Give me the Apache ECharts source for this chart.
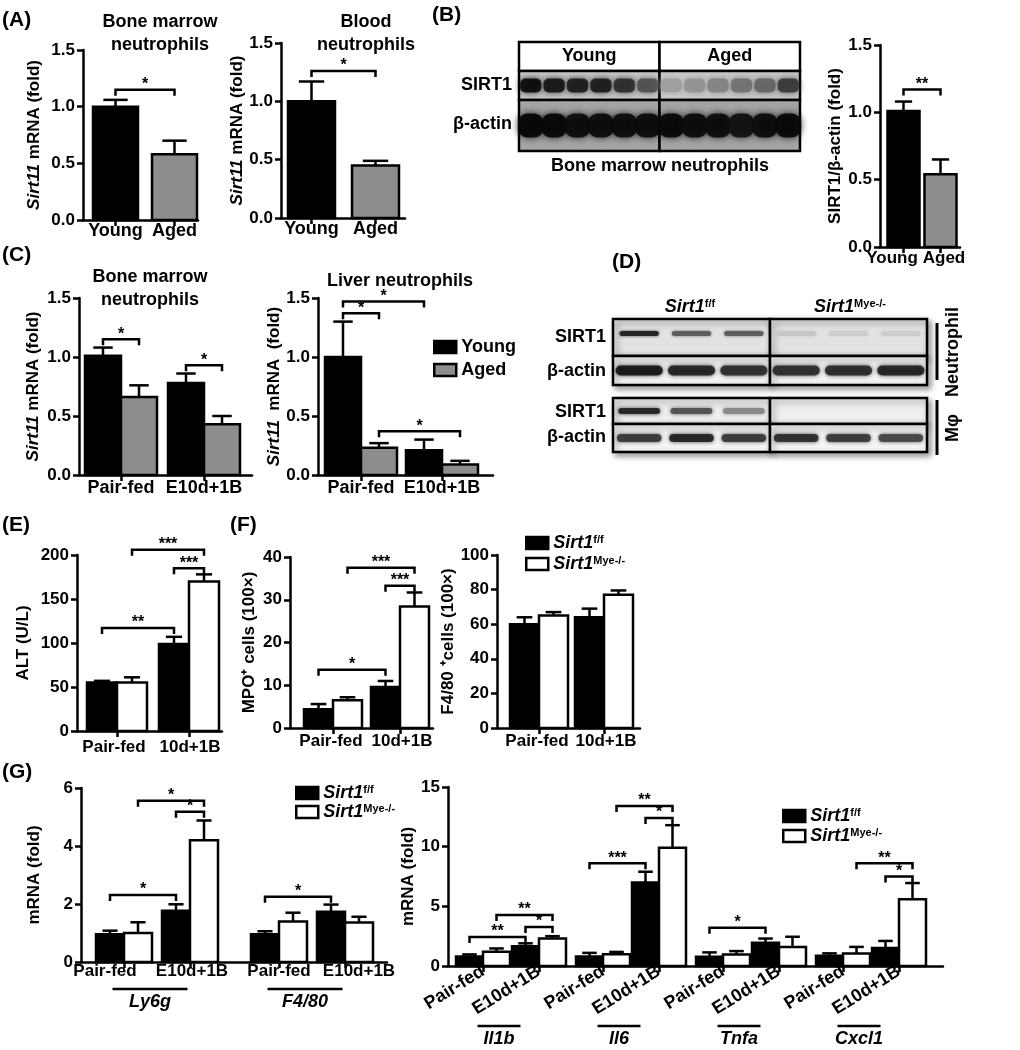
<!DOCTYPE html>
<html>
<head>
<meta charset="utf-8">
<title>SIRT1 in neutrophils</title>
<script src="https://cdn.jsdelivr.net/npm/echarts@6/dist/echarts.min.js"></script>
<style>
  html, body { margin: 0; padding: 0; background: #fff; }
  #chart { width: 1020px; height: 1050px; }
</style>
</head>
<body>
<div id="chart"></div>
<script>
const FONT = '"Liberation Sans", Arial, sans-serif';

// ---------- values ----------
// (A)
const ageGroups = ['Young', 'Aged'];
const aBoneMean = [1.0, 0.58];
const aBoneErr = [0.06, 0.12];
const aBloodMean = [1.0, 0.45];
const aBloodErr = [0.17, 0.04];
// (B)
const bRatioMean = [1.01, 0.54];
const bRatioErr = [0.07, 0.11];
const bSirt1Band = [0.95, 0.9, 0.88, 0.88, 0.8, 0.65, 0.3, 0.35, 0.42, 0.5, 0.55, 0.75];
const bActinBand = [0.98, 0.97, 0.95, 0.95, 0.95, 0.95, 0.97, 0.95, 0.95, 0.93, 0.95, 0.97];
// (C)
const cGroups = ['Pair-fed', 'E10d+1B'];
const cBoneYoung = [1.01, 0.78];
const cBoneYoungErr = [0.07, 0.08];
const cBoneAged = [0.66, 0.43];
const cBoneAgedErr = [0.1, 0.07];
const cLiverYoung = [1.0, 0.21];
const cLiverYoungErr = [0.3, 0.09];
const cLiverAged = [0.23, 0.09];
const cLiverAgedErr = [0.04, 0.03];
// (D)
const dNeutSirt1Band = [0.85, 0.6, 0.6, 0.12, 0.1, 0.1];
const dNeutActinBand = [0.9, 0.85, 0.8, 0.8, 0.82, 0.85];
const dMacSirt1Band = [0.85, 0.65, 0.4, 0, 0, 0];
const dMacActinBand = [0.75, 0.85, 0.75, 0.8, 0.75, 0.7];
// (E)
const eGroups = ['Pair-fed', '10d+1B'];
const eFloxed = [55, 99];
const eFloxedErr = [2, 8];
const eKo = [55, 170];
const eKoErr = [6, 8];
// (F)
const fMpoFloxed = [4.4, 9.6];
const fMpoFloxedErr = [1.2, 1.4];
const fMpoKo = [6.5, 28.4];
const fMpoKoErr = [0.7, 3.3];
const fF480Floxed = [60, 64];
const fF480FloxedErr = [4, 5];
const fF480Ko = [65, 77];
const fF480KoErr = [2, 2.5];
// (G)
const gConditions = ['Pair-fed', 'E10d+1B'];
const gLeftGenes = ['Ly6g', 'F4/80'];
const gLeftFloxed = [0.96, 1.77, 0.96, 1.73];
const gLeftFloxedErr = [0.12, 0.22, 0.1, 0.25];
const gLeftKo = [1.0, 4.2, 1.4, 1.36];
const gLeftKoErr = [0.37, 0.68, 0.3, 0.2];
const gRightGenes = ['Il1b', 'Il6', 'Tnfa', 'Cxcl1'];
const gRightFloxed = [0.8, 1.65, 0.8, 7.0, 0.78, 1.95, 0.86, 1.5];
const gRightFloxedErr = [0.17, 0.25, 0.3, 0.9, 0.36, 0.35, 0.2, 0.6];
const gRightKo = [1.2, 2.3, 0.98, 9.9, 0.97, 1.6, 1.05, 5.6];
const gRightKoErr = [0.27, 0.2, 0.2, 1.9, 0.28, 0.85, 0.55, 1.35];

// significance brackets: [from bar, to bar, height, stars]
const aBoneSig = [[0, 1, 1.15, '*']];
const aBloodSig = [[0, 1, 1.26, '*']];
const bSig = [[0, 1, 1.17, '**']];
const cBoneSig = [[0, 1, 1.15, '*'], [2, 3, 0.93, '*']];
const cLiverSig = [[0, 1, 1.37, '*'], [0, 2, 1.47, '*'], [1, 3, 0.37, '*']];
const eSig = [[0, 2, 117, '**'], [1, 3, 206, '***'], [2, 3, 185, '***']];
const fMpoSig = [[0, 2, 13.6, '*'], [1, 3, 37.5, '***'], [2, 3, 33.3, '***']];
const gLeftSig = [[0, 2, 2.31, '*'], [1, 3, 5.56, '*'], [2, 3, 5.18, '*'], [4, 6, 2.25, '*']];
const gRightSig = [[0, 2, 2.43, '**'], [1, 3, 4.27, '**'], [2, 3, 3.27, '*'],
  [4, 6, 8.6, '***'], [5, 7, 13.4, '**'], [6, 7, 12.4, '*'],
  [8, 10, 3.2, '*'], [13, 15, 8.6, '**'], [14, 15, 7.5, '*']];

// ---------- styles ----------
const BLACK = '#000', GRAY = '#8d8d8d', WHITE = '#fff';
const youngKind = { name: 'Young', color: BLACK };
const agedKind = { name: 'Aged', color: GRAY };
const floxKind = { name: 'Sirt1 f/f', color: BLACK };
const koKind = { name: 'Sirt1 Mye-/-', color: WHITE };
const LW = 2.5;
const boldText = { fontFamily: FONT, fontWeight: 'bold', fontSize: 17, color: '#000' };

const grids = [], xAxes = [], yAxes = [], series = [];

function nearest(arr, v) {
  let b = 0;
  arr.forEach((a, i) => { if (Math.abs(a - v) < Math.abs(arr[b] - v)) b = i; });
  return b;
}

function renderBar(barW, color) {
  return function (params, api) {
    const x = api.value(0), v = api.value(1), e = api.value(2);
    const bl = api.coord([x - barW / 2, 0]);
    const tr = api.coord([x + barW / 2, v]);
    const tip = api.coord([x, v + e]);
    const cap = (tr[0] - bl[0]) * 0.27;
    const line = { stroke: '#000', lineWidth: LW };
    return { type: 'group', children: [
      { type: 'rect', shape: { x: bl[0], y: tr[1], width: tr[0] - bl[0], height: bl[1] - tr[1] },
        style: { fill: color, stroke: '#000', lineWidth: LW } },
      { type: 'line', shape: { x1: tip[0], y1: tr[1], x2: tip[0], y2: tip[1] }, style: line },
      { type: 'line', shape: { x1: tip[0] - cap, y1: tip[1], x2: tip[0] + cap, y2: tip[1] }, style: line }
    ] };
  };
}

function renderBracket(sig, starSize) {
  return function (params, api) {
    const a = api.coord([api.value(0), api.value(2)]);
    const b = api.coord([api.value(1), api.value(2)]);
    return { type: 'group', children: [
      { type: 'polyline', shape: { points: [[a[0], a[1] + 6], a, b, [b[0], b[1] + 6]] },
        style: { stroke: '#000', lineWidth: LW, fill: null } },
      { type: 'text', style: { text: sig[params.dataIndex][3], x: (a[0] + b[0]) / 2, y: a[1] + 3,
        align: 'center', verticalAlign: 'bottom', textAlign: 'center', textVerticalAlign: 'bottom',
        font: 'bold ' + starSize + 'px ' + FONT, fill: '#000' } }
    ] };
  };
}

// bar panel on a pixel-scaled value x axis
function addPanel(p) {
  const gi = grids.length, xi = xAxes.length, yi = yAxes.length;
  const [left, top, width, height] = p.box;
  grids.push({ left, top, width, height });
  const labelAt = p.centers.map((c, i) => c + (p.labelShift ? p.labelShift[i] : 0));
  // tick labels are split over two bottom axes (alternate groups) so that
  // neighbouring labels that touch are not dropped by the overlap check
  const labelAxis = (parity, main) => ({
    gridIndex: gi, type: 'value', min: 0, max: width, position: 'bottom', offset: 0,
    axisLine: { show: main, onZero: false, lineStyle: { color: '#000', width: LW } },
    axisTick: { show: main, customValues: p.centers, length: 6, lineStyle: { color: '#000', width: LW } },
    axisLabel: Object.assign({}, boldText, { fontSize: p.xFont || 17,
      customValues: labelAt.filter((c, i) => i % 2 === parity),
      margin: p.xMargin, rotate: p.rotate || 0, showMinLabel: true, showMaxLabel: true,
      formatter: v => p.labels[nearest(labelAt, v)] }),
    splitLine: { show: false }
  });
  xAxes.push(labelAxis(0, true));
  yAxes.push({
    gridIndex: gi, type: 'value', min: 0, max: p.yMax, interval: p.yStep,
    axisLine: { show: true, onZero: false, lineStyle: { color: '#000', width: LW } },
    axisTick: { show: true, length: 6, lineStyle: { color: '#000', width: LW } },
    axisLabel: Object.assign({}, boldText, { margin: 8, formatter: v => v.toFixed(p.digits) }),
    splitLine: { show: false },
    name: p.yName, nameLocation: 'middle', nameGap: p.nameGap, nameRotate: 90,
    nameTextStyle: Object.assign({}, boldText, {
      rich: { i: { fontFamily: FONT, fontWeight: 'bold', fontStyle: 'italic', fontSize: 17, color: '#000' } } })
  });
  xAxes.push(labelAxis(1, false));
  if (p.genes) {
    xAxes.push({
      gridIndex: gi, type: 'value', min: 0, max: width, position: 'bottom', offset: p.geneOffset,
      axisLine: { show: false }, axisTick: { show: false }, splitLine: { show: false },
      axisLabel: { customValues: p.geneCenters, margin: 0, showMinLabel: true, showMaxLabel: true,
        formatter: v => '{u| }\n{g|' + p.genes[nearest(p.geneCenters, v)] + '}',
        rich: {
          u: { width: p.underline, height: 2.5, lineHeight: 4, fontSize: 2, backgroundColor: '#000' },
          g: { fontFamily: FONT, fontSize: 18, fontWeight: 'bold', fontStyle: 'italic', lineHeight: 22, color: '#000' }
        } }
    });
  }
  const n = p.series.length;
  const barX = [];
  if (p.single) p.centers.forEach(c => barX.push(c));
  else p.centers.forEach(c => p.series.forEach((s, k) => barX.push(c + (k - (n - 1) / 2) * p.barW)));
  p.series.forEach((s, k) => {
    series.push({
      type: 'custom', name: s.name, xAxisIndex: xi, yAxisIndex: yi, silent: true, z: 3,
      itemStyle: { color: s.color, borderColor: '#000', borderWidth: LW },
      data: s.mean.map((m, j) => [barX[p.single ? k : j * n + k], m, s.err[j]]),
      renderItem: renderBar(p.barW, s.color)
    });
  });
  if (p.sig && p.sig.length) {
    series.push({
      type: 'custom', xAxisIndex: xi, yAxisIndex: yi, silent: true, z: 4,
      data: p.sig.map(s => [barX[s[0]], barX[s[1]], s[2]]),
      renderItem: renderBracket(p.sig, p.starSize || 16)
    });
  }
}

function single(kinds, mean, err) {
  return kinds.map((k, i) => Object.assign({}, k, { mean: [mean[i]], err: [err[i]] }));
}
function pair(kinds, m0, e0, m1, e1) {
  return [Object.assign({}, kinds[0], { mean: m0, err: e0 }), Object.assign({}, kinds[1], { mean: m1, err: e1 })];
}

// western blot drawn on a hidden grid: lanes on x, pixel rows on y
function addBlot(b) {
  const gi = grids.length, xi = xAxes.length, yi = yAxes.length;
  grids.push({ left: b.box[0], top: b.box[1], width: b.box[2], height: b.box[3], show: false });
  xAxes.push({ gridIndex: gi, type: 'value', min: 0, max: b.lanes, show: false });
  yAxes.push({ gridIndex: gi, type: 'value', min: 0, max: b.box[3], inverse: true, show: false });
  const half = b.lanes / b.halves.length;
  const cells = [];
  b.rows.forEach((r, ri) => b.halves.forEach((h, hi) => cells.push([hi, ri])));
  series.push({
    type: 'custom', xAxisIndex: xi, yAxisIndex: yi, silent: true, z: 1, data: cells,
    renderItem: (params, api) => {
      const hi = api.value(0), r = b.rows[api.value(1)];
      const p0 = api.coord([hi * half, r.y0]), p1 = api.coord([(hi + 1) * half, r.y1]);
      const children = [{
        type: 'rect', shape: { x: p0[0], y: p0[1], width: p1[0] - p0[0], height: p1[1] - p0[1] },
        style: { fill: r.bg, stroke: '#000', lineWidth: LW,
          shadowBlur: b.shadow ? 6 : 0, shadowOffsetX: b.shadow ? 3 : 0, shadowOffsetY: b.shadow ? 3 : 0,
          shadowColor: 'rgba(0,0,0,0.4)' }
      }];
      if (r.header) {
        children.push({ type: 'text', style: { text: b.halves[hi], x: (p0[0] + p1[0]) / 2, y: (p0[1] + p1[1]) / 2,
          align: 'center', verticalAlign: 'middle', textAlign: 'center', textVerticalAlign: 'middle',
          font: 'bold 18px ' + FONT, fill: '#000' } });
      }
      return { type: 'group', children };
    }
  });
  const bandData = [];
  b.bands.forEach(row => row.values.forEach((v, lane) => bandData.push([lane, row.row, v])));
  series.push({
    type: 'custom', xAxisIndex: xi, yAxisIndex: yi, silent: true, z: 2, data: bandData,
    renderItem: (params, api) => {
      const lane = api.value(0), r = b.rows[api.value(1)], v = api.value(2);
      if (v <= 0) return null;
      const c = api.coord([lane + 0.5, (r.y0 + r.y1) / 2 + (r.dy || 0)]);
      const w = api.size([r.bw, 0])[0];
      const g = Math.round(225 * (1 - v));
      const col = 'rgba(' + g + ',' + g + ',' + g + ',0.92)';
      return { type: 'rect', shape: { x: c[0] - w / 2, y: c[1] - r.bh / 2, width: w, height: r.bh,
        r: r.round != null ? r.round : r.bh / 2 },
        style: { fill: col, shadowBlur: r.blur, shadowColor: col } };
    }
  });
}

// ---------- panels ----------
addPanel({ box: [83, 50, 115, 170], single: true, centers: [32.5, 91.5], barW: 45, labels: ageGroups, xMargin: 2,
  xFont: 18, yMax: 1.5, yStep: 0.5, digits: 1, yName: '{i|Sirt11} mRNA (fold)', nameGap: 40,
  series: single([youngKind, agedKind], aBoneMean, aBoneErr), sig: aBoneSig });
addPanel({ box: [281, 43, 124, 175], single: true, centers: [30.5, 94.5], barW: 47, labels: ageGroups, xMargin: 2,
  xFont: 18, yMax: 1.5, yStep: 0.5, digits: 1, yName: '{i|Sirt11} mRNA (fold)', nameGap: 34,
  series: single([youngKind, agedKind], aBloodMean, aBloodErr), sig: aBloodSig });
addPanel({ box: [880, 45, 80, 202], single: true, centers: [23.5, 60.5], barW: 32, labels: ageGroups, xMargin: 3,
  labelShift: [-11.5, 3.5], xFont: 17, yMax: 1.5, yStep: 0.5, digits: 1, yName: 'SIRT1/β-actin (fold)', nameGap: 36,
  series: single([youngKind, agedKind], bRatioMean, bRatioErr), sig: bSig });
addPanel({ box: [79, 298, 173, 177], centers: [42, 125], barW: 36, labels: cGroups, xMargin: 4,
  xFont: 18, yMax: 1.5, yStep: 0.5, digits: 1, yName: '{i|Sirt11} mRNA (fold)', nameGap: 37,
  series: pair([youngKind, agedKind], cBoneYoung, cBoneYoungErr, cBoneAged, cBoneAgedErr), sig: cBoneSig });
addPanel({ box: [318, 298, 175, 177], centers: [43, 124], barW: 36, labels: cGroups, xMargin: 4,
  xFont: 18, yMax: 1.5, yStep: 0.5, digits: 1, yName: '{i|Sirt11}  mRNA  (fold)', nameGap: 35,
  series: pair([youngKind, agedKind], cLiverYoung, cLiverYoungErr, cLiverAged, cLiverAgedErr), sig: cLiverSig });
addPanel({ box: [77, 555, 145, 176], centers: [40, 112], barW: 30, labels: eGroups, xMargin: 8,
  labelShift: [-3, 1], yMax: 200, yStep: 50, digits: 0, yName: 'ALT (U/L)', nameGap: 45,
  series: pair([floxKind, koKind], eFloxed, eFloxedErr, eKo, eKoErr), sig: eSig });
addPanel({ box: [290, 557, 143, 171], centers: [43, 110], barW: 29, labels: eGroups, xMargin: 5,
  labelShift: [-2, 2], yMax: 40, yStep: 10, digits: 0, yName: 'MPO⁺ cells (100×)', nameGap: 32,
  series: pair([floxKind, koKind], fMpoFloxed, fMpoFloxedErr, fMpoKo, fMpoKoErr), sig: fMpoSig });
addPanel({ box: [497, 555, 143, 173], centers: [42, 107], barW: 29, labels: eGroups, xMargin: 5,
  labelShift: [-2, 2], yMax: 100, yStep: 20, digits: 0, yName: 'F4/80 ⁺cells (100×)', nameGap: 35,
  series: pair([floxKind, koKind], fF480Floxed, fF480FloxedErr, fF480Ko, fF480KoErr), sig: [] });

// (G) group centres: gene blocks, two conditions each
const gLeftCenters = [], gLeftGeneCenters = [];
gLeftGenes.forEach((g, i) => {
  const c0 = 43 + i * 155;
  gLeftCenters.push(c0, c0 + 66);
  gLeftGeneCenters.push(c0 + 33 - 7);
});
addPanel({ box: [81, 788, 306, 174], centers: gLeftCenters, barW: 28,
  labels: gLeftCenters.map((c, i) => gConditions[i % 2]), xMargin: 1, labelShift: [-19, 2, 0, 14],
  genes: gLeftGenes, geneCenters: gLeftGeneCenters, geneOffset: 25, underline: 75,
  yMax: 6, yStep: 2, digits: 0, yName: 'mRNA (fold)', nameGap: 38,
  series: pair([floxKind, koKind], gLeftFloxed, gLeftFloxedErr, gLeftKo, gLeftKoErr), sig: gLeftSig });

const gRightCenters = [], gRightGeneCenters = [];
gRightGenes.forEach((g, i) => {
  const c0 = 35 + i * 120;
  gRightCenters.push(c0, c0 + 56);
  gRightGeneCenters.push(c0 + 28 - 12);
});
addPanel({ box: [448, 787, 495, 179], centers: gRightCenters, barW: 27, rotate: 32, xFont: 18,
  labels: gRightCenters.map((c, i) => gConditions[i % 2]), xMargin: 4,
  genes: gRightGenes, geneCenters: gRightGeneCenters, geneOffset: 58, underline: 43,
  yMax: 15, yStep: 5, digits: 0, yName: 'mRNA (fold)', nameGap: 31,
  series: pair([floxKind, koKind], gRightFloxed, gRightFloxedErr, gRightKo, gRightKoErr), sig: gRightSig });

// blots
addBlot({ box: [519, 42, 281, 109], lanes: 12, halves: ['Young', 'Aged'], shadow: false,
  rows: [
    { y0: 0, y1: 29, bg: '#fff', header: true },
    { y0: 29, y1: 58, bg: '#cbcbcb', bw: 0.9, bh: 14, blur: 7, round: 5 },
    { y0: 58, y1: 109, bg: '#a4a4a4', bw: 1.08, bh: 24, blur: 7, round: 9 }
  ],
  bands: [{ row: 1, values: bSirt1Band }, { row: 2, values: bActinBand }] });
addBlot({ box: [613, 319, 314, 133], lanes: 6, halves: ['f/f', 'Mye'], shadow: true,
  rows: [
    { y0: 0, y1: 37, bg: '#e2e2e2', bw: 0.75, bh: 5, blur: 3, dy: -4 },
    { y0: 37, y1: 66, bg: '#f3f3f3', bw: 0.9, bh: 10, blur: 4 },
    { y0: 79, y1: 105, bg: '#efefef', bw: 0.8, bh: 6, blur: 4 },
    { y0: 105, y1: 133, bg: '#f6f6f6', bw: 0.85, bh: 8, blur: 4 }
  ],
  bands: [{ row: 0, values: dNeutSirt1Band }, { row: 1, values: dNeutActinBand },
    { row: 2, values: dMacSirt1Band }, { row: 3, values: dMacActinBand }] });

// ---------- legends ----------
const supRich = {
  i: { fontFamily: FONT, fontSize: 18, fontWeight: 'bold', fontStyle: 'italic', color: '#000' },
  s: { fontFamily: FONT, fontSize: 11, fontWeight: 'bold', verticalAlign: 'top', color: '#000' }
};
function legendFmt(name) {
  if (name === 'Sirt1 f/f') return '{i|Sirt1}{s|f/f}';
  if (name === 'Sirt1 Mye-/-') return '{i|Sirt1}{s|Mye-/-}';
  return name;
}
function legendAt(left, top, kinds, gap) {
  return {
    left, top, orient: 'vertical', icon: 'rect', itemWidth: 22, itemHeight: 12, itemGap: gap,
    selectedMode: false, formatter: legendFmt,
    textStyle: Object.assign({}, boldText, { fontSize: 18, rich: supRich }),
    data: kinds.map(k => ({ name: k.name, itemStyle: { color: k.color, borderColor: '#000', borderWidth: LW } }))
  };
}
const legends = [
  legendAt(428, 333, [youngKind, agedKind], 5),
  legendAt(520, 529, [floxKind, koKind], 3),
  legendAt(290, 779, [floxKind, koKind], 1),
  legendAt(777, 802, [floxKind, koKind], 2)
];

// ---------- labels and decorations ----------
function txt(x, y, text, o) {
  o = o || {};
  return {
    type: 'text', x, y, rotation: o.rot || 0, silent: true,
    style: { text, x: 0, y: 0, fill: '#000', font: (o.font || 'bold 18px') + ' ' + FONT,
      align: o.align || 'left', textAlign: o.align || 'left', verticalAlign: 'middle', textVerticalAlign: 'middle',
      rich: o.rich }
  };
}
const graphics = [
  txt(2, 20, '(A)', { font: 'bold 21px' }),
  txt(432, 15, '(B)', { font: 'bold 21px' }),
  txt(2, 255, '(C)', { font: 'bold 21px' }),
  txt(612, 262, '(D)', { font: 'bold 21px' }),
  txt(2, 525, '(E)', { font: 'bold 21px' }),
  txt(230, 525, '(F)', { font: 'bold 21px' }),
  txt(2, 772, '(G)', { font: 'bold 21px' }),
  txt(160, 22, 'Bone marrow', { align: 'center' }),
  txt(160, 45, 'neutrophils', { align: 'center' }),
  txt(366, 22, 'Blood', { align: 'center' }),
  txt(366, 45, 'neutrophils', { align: 'center' }),
  txt(150, 277, 'Bone marrow', { align: 'center' }),
  txt(150, 300, 'neutrophils', { align: 'center' }),
  txt(400, 281, 'Liver neutrophils', { align: 'center' }),
  txt(512, 85, 'SIRT1', { align: 'right' }),
  txt(512, 124, 'β-actin', { align: 'right' }),
  txt(660, 166, 'Bone marrow neutrophils', { align: 'center' }),
  txt(690, 307, '{i|Sirt1}{s|f/f}', { align: 'center', rich: supRich }),
  txt(850, 307, '{i|Sirt1}{s|Mye-/-}', { align: 'center', rich: supRich }),
  txt(606, 337, 'SIRT1', { align: 'right' }),
  txt(606, 371, 'β-actin', { align: 'right' }),
  txt(606, 412, 'SIRT1', { align: 'right' }),
  txt(606, 437, 'β-actin', { align: 'right' }),
  { type: 'line', silent: true, shape: { x1: 937, y1: 323, x2: 937, y2: 380 }, style: { stroke: '#000', lineWidth: 3 } },
  { type: 'line', silent: true, shape: { x1: 937, y1: 400, x2: 937, y2: 455 }, style: { stroke: '#000', lineWidth: 3 } },
  txt(953, 352, 'Neutrophil', { align: 'center', rot: Math.PI / 2 }),
  txt(953, 428, 'Mφ', { align: 'center', rot: Math.PI / 2 })
];

const chart = echarts.init(document.getElementById('chart'));
chart.setOption({
  animation: false,
  textStyle: { fontFamily: FONT },
  grid: grids,
  xAxis: xAxes,
  yAxis: yAxes,
  legend: legends,
  series: series,
  graphic: { elements: graphics }
});
</script>
</body>
</html>
